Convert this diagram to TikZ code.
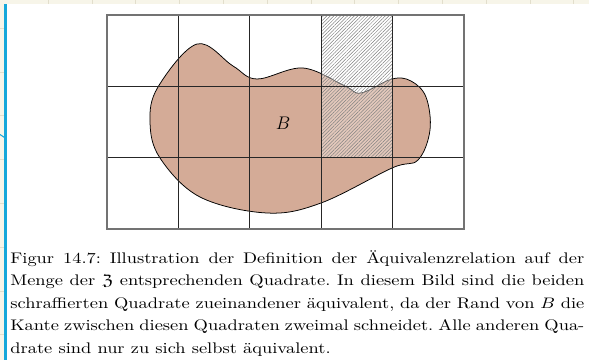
\documentclass[tikz,border=0pt]{standalone}
\usepackage{amssymb}
\usetikzlibrary{patterns.meta}

\definecolor{blobfill}{RGB}{212,171,151}
\definecolor{pagetint}{RGB}{247,245,233}
\definecolor{pagetick}{RGB}{226,222,204}
\definecolor{barblue}{RGB}{22,168,218}

\tikzset{
  gridline/.style={line width=0.8pt, black!85},
  gridframe/.style={line width=1pt, black!55},
  hatchbox/.style={pattern={Lines[angle=45,distance=1.6pt,line width=0.3pt]}, pattern color=black!50},
  captiontext/.style={anchor=north west, inner sep=0pt, xscale=1.2, transform shape,
    text width=314.75pt, align=justify, font=\fontsize{10.1}{14.8}\selectfont\frenchspacing},
}

\begin{document}
\begin{tikzpicture}[x=0.658pt, y=-0.658pt]
  \useasboundingbox (0,0) rectangle (589,360);

  % page margin of the viewer
  \fill[pagetint] (0,0) rectangle (589,3.7);
  \fill[pagetint] (0,0) rectangle (4.3,360);
  \foreach \t in {0,...,12} \draw[pagetick, line width=0.6pt] ({48.3+43.8*\t},0) -- ++(0,3.7);
  \foreach \t in {0,...,7} \draw[pagetick, line width=0.6pt] (0,{28.3+43.8*\t}) -- ++(4.3,0);
  \fill[barblue] (4.3,4) rectangle (7.2,360);
  \draw[barblue, line width=0.7pt] (0,134.5) -- (4.5,137.5);

  % the set B
  \draw[fill=blobfill, line width=0.5pt] plot[smooth cycle, tension=0.6] coordinates {
    (158,87) (197,44) (233,66) (257,79) (303,68) (345,86) (361,93) (392,79)
    (411,81) (426,97) (430,130) (418,160) (392,168) (321,203) (267,213)
    (200,197) (160,158) (150,122)};
  \node[font=\fontsize{12.2}{14}\selectfont] (b) at (283,123) {$B$};

  % the two equivalent squares
  \fill[white, fill opacity=0.35] (321.2,15) rectangle (392.6,157.7);
  \fill[hatchbox] (321.2,15) rectangle (392.6,157.7);

  % grid of squares
  \foreach \i in {1,...,4} \draw[gridline] ({107+71.4*\i},15) -- ({107+71.4*\i},229);
  \foreach \j in {1,2} \draw[gridline] (107,{15+71.33*\j}) -- (464,{15+71.33*\j});
  \draw[gridframe] (107,15) rectangle (464,229);

  \node[captiontext] (caption) at (10,247.3) {\strut Figur 14.7: Illustration der Definition
    der Äquivalenzrelation auf der\linebreak Menge der $\mathfrak{Z}$ entsprechenden
    Quadrate. In diesem Bild sind die beiden\linebreak schraffierten Quadrate zueinandener
    äquivalent, da der Rand von $B$ die\linebreak Kante zwischen diesen Quadraten zweimal
    schneidet. Alle anderen Qua-\linebreak drate sind nur zu sich selbst äquivalent.};
\end{tikzpicture}
\end{document}
